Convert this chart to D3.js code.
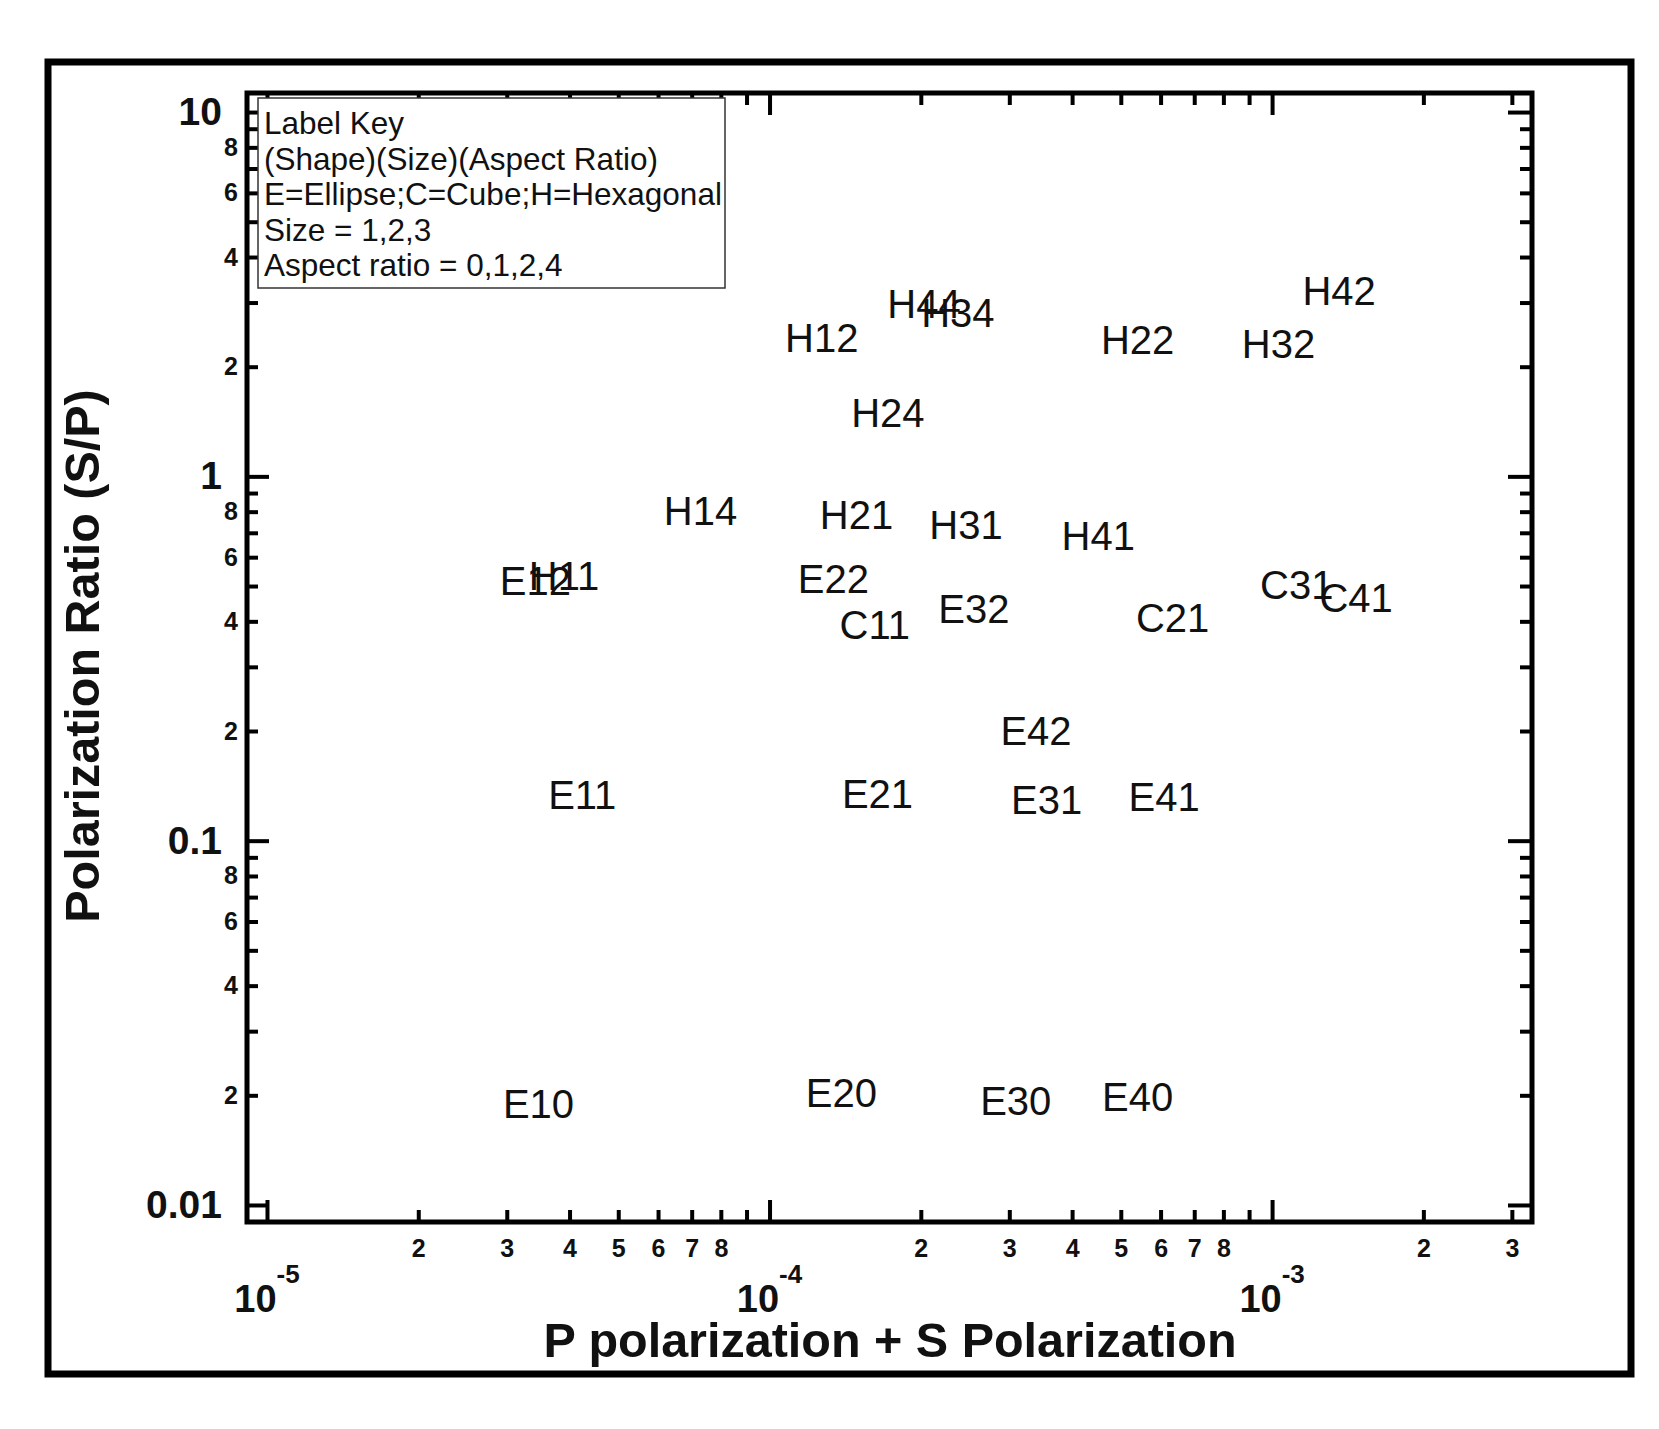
<!DOCTYPE html>
<html>
<head>
<meta charset="utf-8">
<script src="https://cdn.jsdelivr.net/npm/d3@7"></script>
<style>
  body { margin: 0; background: #fff; }
  text { font-family: "Liberation Sans", Arial, sans-serif; fill: #111; }
</style>
</head>
<body>
<svg id="chart" width="1659" height="1429"></svg>
<script>
// point labels: (Shape)(Size)(Aspect Ratio)
const labels = ["H42", "H44", "H34", "H12", "H22", "H32", "H24", "H14", "H21", "H31",
                "H41", "H11", "E12", "E22", "C31", "C41", "E32", "C11", "C21", "E42",
                "E11", "E21", "E31", "E41", "E10", "E20", "E30", "E40"];
// P polarization + S polarization
const totalPol = [1.36e-3, 2.03e-4, 2.37e-4, 1.27e-4, 5.40e-4, 1.03e-3, 1.72e-4, 7.29e-5, 1.49e-4, 2.46e-4,
                  4.51e-4, 3.90e-5, 3.42e-5, 1.34e-4, 1.12e-3, 1.47e-3, 2.55e-4, 1.62e-4, 6.34e-4, 3.39e-4,
                  4.24e-5, 1.64e-4, 3.56e-4, 6.10e-4, 3.47e-5, 1.39e-4, 3.09e-4, 5.40e-4];
// polarization ratio S/P
const ratio = [3.23, 2.98, 2.81, 2.40, 2.37, 2.32, 1.50, 0.803, 0.783, 0.736,
               0.689, 0.533, 0.517, 0.523, 0.506, 0.464, 0.434, 0.393, 0.409, 0.201,
               0.134, 0.135, 0.130, 0.132, 0.0190, 0.0203, 0.0194, 0.0198];

// ticks
const xMajorTicks = [1e-5, 1e-4, 1e-3];
const xMajorExp = ["-5", "-4", "-3"];
const xMinorTicks = [2e-5, 3e-5, 4e-5, 5e-5, 6e-5, 7e-5, 8e-5, 9e-5,
                     2e-4, 3e-4, 4e-4, 5e-4, 6e-4, 7e-4, 8e-4, 9e-4,
                     2e-3, 3e-3];
const xMinorLabelTicks = [2e-5, 3e-5, 4e-5, 5e-5, 6e-5, 7e-5, 8e-5,
                          2e-4, 3e-4, 4e-4, 5e-4, 6e-4, 7e-4, 8e-4,
                          2e-3, 3e-3];
const xMinorLabels = ["2", "3", "4", "5", "6", "7", "8",
                      "2", "3", "4", "5", "6", "7", "8",
                      "2", "3"];
const yMajorTicks = [0.01, 0.1, 1, 10];
const yMajorLabels = ["0.01", "0.1", "1", "10"];
const yMinorTicks = [0.02, 0.03, 0.04, 0.05, 0.06, 0.07, 0.08, 0.09,
                     0.2, 0.3, 0.4, 0.5, 0.6, 0.7, 0.8, 0.9,
                     2, 3, 4, 5, 6, 7, 8, 9];
const yMinorLabelTicks = [0.02, 0.04, 0.06, 0.08, 0.2, 0.4, 0.6, 0.8, 2, 4, 6, 8];
const yMinorLabels = ["2", "4", "6", "8", "2", "4", "6", "8", "2", "4", "6", "8"];

const legendLines = ["Label Key", "(Shape)(Size)(Aspect Ratio)", "E=Ellipse;C=Cube;H=Hexagonal",
                     "Size = 1,2,3", "Aspect ratio = 0,1,2,4"];

const plotLeft = 247, plotRight = 1532, plotTop = 93, plotBottom = 1222;

const svg = d3.select("#chart");

const x = d3.scaleLog().domain([9.125e-6, 3.29e-3]).range([plotLeft, plotRight]);
const y = d3.scaleLog().domain([0.00898, 11.28]).range([plotBottom, plotTop]);

// outer frame
svg.append("rect")
   .attr("x", 48).attr("y", 62)
   .attr("width", 1583).attr("height", 1312)
   .attr("fill", "none").attr("stroke", "#000").attr("stroke-width", 7);

function styleTicks(g) {
  g.select(".domain").remove();
  g.selectAll(".tick line").attr("stroke", "#000").attr("stroke-width", 4);
}

// bottom and top ticks (pointing into the plot)
svg.append("g").attr("transform", `translate(0,${plotBottom})`)
   .call(d3.axisTop(x).tickValues(xMinorTicks).tickSize(12).tickFormat(""))
   .call(styleTicks);
svg.append("g").attr("transform", `translate(0,${plotBottom})`)
   .call(d3.axisTop(x).tickValues(xMajorTicks).tickSize(22).tickFormat(""))
   .call(styleTicks);
svg.append("g").attr("transform", `translate(0,${plotTop})`)
   .call(d3.axisBottom(x).tickValues(xMinorTicks).tickSize(12).tickFormat(""))
   .call(styleTicks);
svg.append("g").attr("transform", `translate(0,${plotTop})`)
   .call(d3.axisBottom(x).tickValues(xMajorTicks).tickSize(22).tickFormat(""))
   .call(styleTicks);

// left and right ticks
svg.append("g").attr("transform", `translate(${plotLeft},0)`)
   .call(d3.axisRight(y).tickValues(yMinorTicks).tickSize(11).tickFormat(""))
   .call(styleTicks);
svg.append("g").attr("transform", `translate(${plotLeft},0)`)
   .call(d3.axisRight(y).tickValues(yMajorTicks).tickSize(22).tickFormat(""))
   .call(styleTicks);
svg.append("g").attr("transform", `translate(${plotRight},0)`)
   .call(d3.axisLeft(y).tickValues(yMinorTicks).tickSize(12).tickFormat(""))
   .call(styleTicks);
svg.append("g").attr("transform", `translate(${plotRight},0)`)
   .call(d3.axisLeft(y).tickValues(yMajorTicks).tickSize(24).tickFormat(""))
   .call(styleTicks);

// axis box
svg.append("rect")
   .attr("x", plotLeft).attr("y", plotTop)
   .attr("width", plotRight - plotLeft).attr("height", plotBottom - plotTop)
   .attr("fill", "none").attr("stroke", "#000").attr("stroke-width", 5);

// tick labels
const xMinorAxis = svg.append("g").attr("transform", `translate(0,${plotBottom})`)
   .call(d3.axisBottom(x).tickValues(xMinorLabelTicks).tickSize(0).tickPadding(17)
           .tickFormat((d, i) => xMinorLabels[i]));
xMinorAxis.select(".domain").remove();
xMinorAxis.selectAll("text")
   .attr("font-family", "'Liberation Sans', Arial, sans-serif")
   .attr("font-size", 25).attr("font-weight", "bold").attr("fill", "#111");

const xMajor = svg.append("g").selectAll("text")
   .data(xMajorTicks)
   .join("text")
   .attr("x", d => x(d))
   .attr("y", 1312)
   .attr("text-anchor", "middle")
   .attr("font-weight", "bold");
xMajor.append("tspan").attr("font-size", 38).text("10");
xMajor.append("tspan").attr("font-size", 26).attr("dy", -29).text((d, i) => xMajorExp[i]);

const yMinorAxis = svg.append("g").attr("transform", `translate(${plotLeft},0)`)
   .call(d3.axisLeft(y).tickValues(yMinorLabelTicks).tickSize(0).tickPadding(9)
           .tickFormat((d, i) => yMinorLabels[i]));
yMinorAxis.select(".domain").remove();
yMinorAxis.selectAll("text")
   .attr("font-family", "'Liberation Sans', Arial, sans-serif")
   .attr("font-size", 25).attr("font-weight", "bold").attr("fill", "#111");

const yMajorAxis = svg.append("g").attr("transform", `translate(${plotLeft},0)`)
   .call(d3.axisLeft(y).tickValues(yMajorTicks).tickSize(0).tickPadding(25)
           .tickFormat((d, i) => yMajorLabels[i]));
yMajorAxis.select(".domain").remove();
yMajorAxis.selectAll("text")
   .attr("font-family", "'Liberation Sans', Arial, sans-serif")
   .attr("font-size", 39).attr("font-weight", "bold").attr("fill", "#111");

// axis titles
svg.append("text")
   .attr("x", 890).attr("y", 1357)
   .attr("text-anchor", "middle")
   .attr("font-size", 48.5).attr("font-weight", "bold")
   .text("P polarization + S Polarization");

svg.append("text")
   .attr("transform", "translate(99,656) rotate(-90)")
   .attr("text-anchor", "middle")
   .attr("font-size", 48.5).attr("font-weight", "bold")
   .text("Polarization Ratio (S/P)");

// point labels
svg.append("g").selectAll("text")
   .data(labels)
   .join("text")
   .attr("x", (d, i) => x(totalPol[i]))
   .attr("y", (d, i) => y(ratio[i]))
   .attr("dy", "0.36em")
   .attr("text-anchor", "middle")
   .attr("font-size", 40)
   .text(d => d);

// legend box
const legend = svg.append("g");
legend.append("rect")
   .attr("x", 258).attr("y", 98)
   .attr("width", 467).attr("height", 190)
   .attr("fill", "#fff").attr("stroke", "#333").attr("stroke-width", 1.5);
legend.selectAll("text")
   .data(legendLines)
   .join("text")
   .attr("x", 264)
   .attr("y", (d, i) => 134 + i * 35.5)
   .attr("font-size", 31.5)
   .text(d => d);
</script>
</body>
</html>
